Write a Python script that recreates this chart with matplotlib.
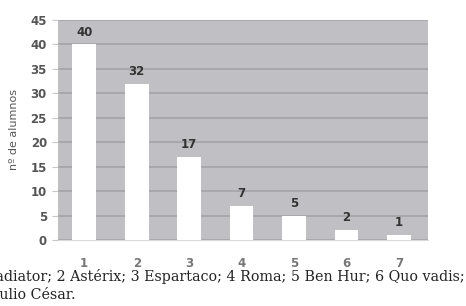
import matplotlib
matplotlib.use("Agg")
import matplotlib.pyplot as plt

categories = ["1", "2", "3", "4", "5", "6", "7"]
values = [40, 32, 17, 7, 5, 2, 1]
yticks = [0, 5, 10, 15, 20, 25, 30, 35, 40, 45]
ylabel = "nº de alumnos"
caption1 = "1 Gladiator; 2 Astérix; 3 Espartaco; 4 Roma; 5 Ben Hur; 6 Quo vadis;"
caption2 = "7 Julio César."

W, H = 466, 306
fig = plt.figure(figsize=(W/100, H/100), dpi=100)
ax = fig.add_axes([58/W, 1-240/H, (428-58)/W, (240-20)/H])
ax.set_facecolor("#c0c0c4")
x = list(range(1, len(values)+1))
ax.bar(x, values, width=0.45, color="white", zorder=3)
ax.set_xlim(0.5, 7.55)
ax.set_ylim(0, 45)
ax.set_yticks(yticks)
ax.set_xticks(x)
ax.set_xticklabels(categories)
ax.yaxis.grid(True, color="#a4a4a8", linewidth=1.2, zorder=1)
for s in ["top", "right", "left"]:
    ax.spines[s].set_visible(False)
ax.spines["bottom"].set_color("#d8d8d8")
ax.tick_params(axis="y", length=4, color="#c8c8c8", labelsize=8.5, labelcolor="#555555", pad=4)
ax.tick_params(axis="x", length=0, labelsize=8.5, labelcolor="#777777", pad=12)
for lbl in ax.get_yticklabels() + ax.get_xticklabels():
    lbl.set_fontweight("bold")
for xi, v in zip(x, values):
    ax.text(xi, v + 1.2, str(v), ha="center", va="bottom", fontsize=8.5,
            fontweight="bold", color="#333333", zorder=4)
ax.set_ylabel(ylabel, fontsize=8, color="#555555", labelpad=8)

fig.text(465/W, 1-276/H, caption1, ha="right", va="center", fontsize=10.3,
         family="DejaVu Serif", color="#222222")
fig.text(76/W, 1-294/H, caption2, ha="right", va="center", fontsize=10.3,
         family="DejaVu Serif", color="#222222")
fig.savefig("out.png", dpi=100)
